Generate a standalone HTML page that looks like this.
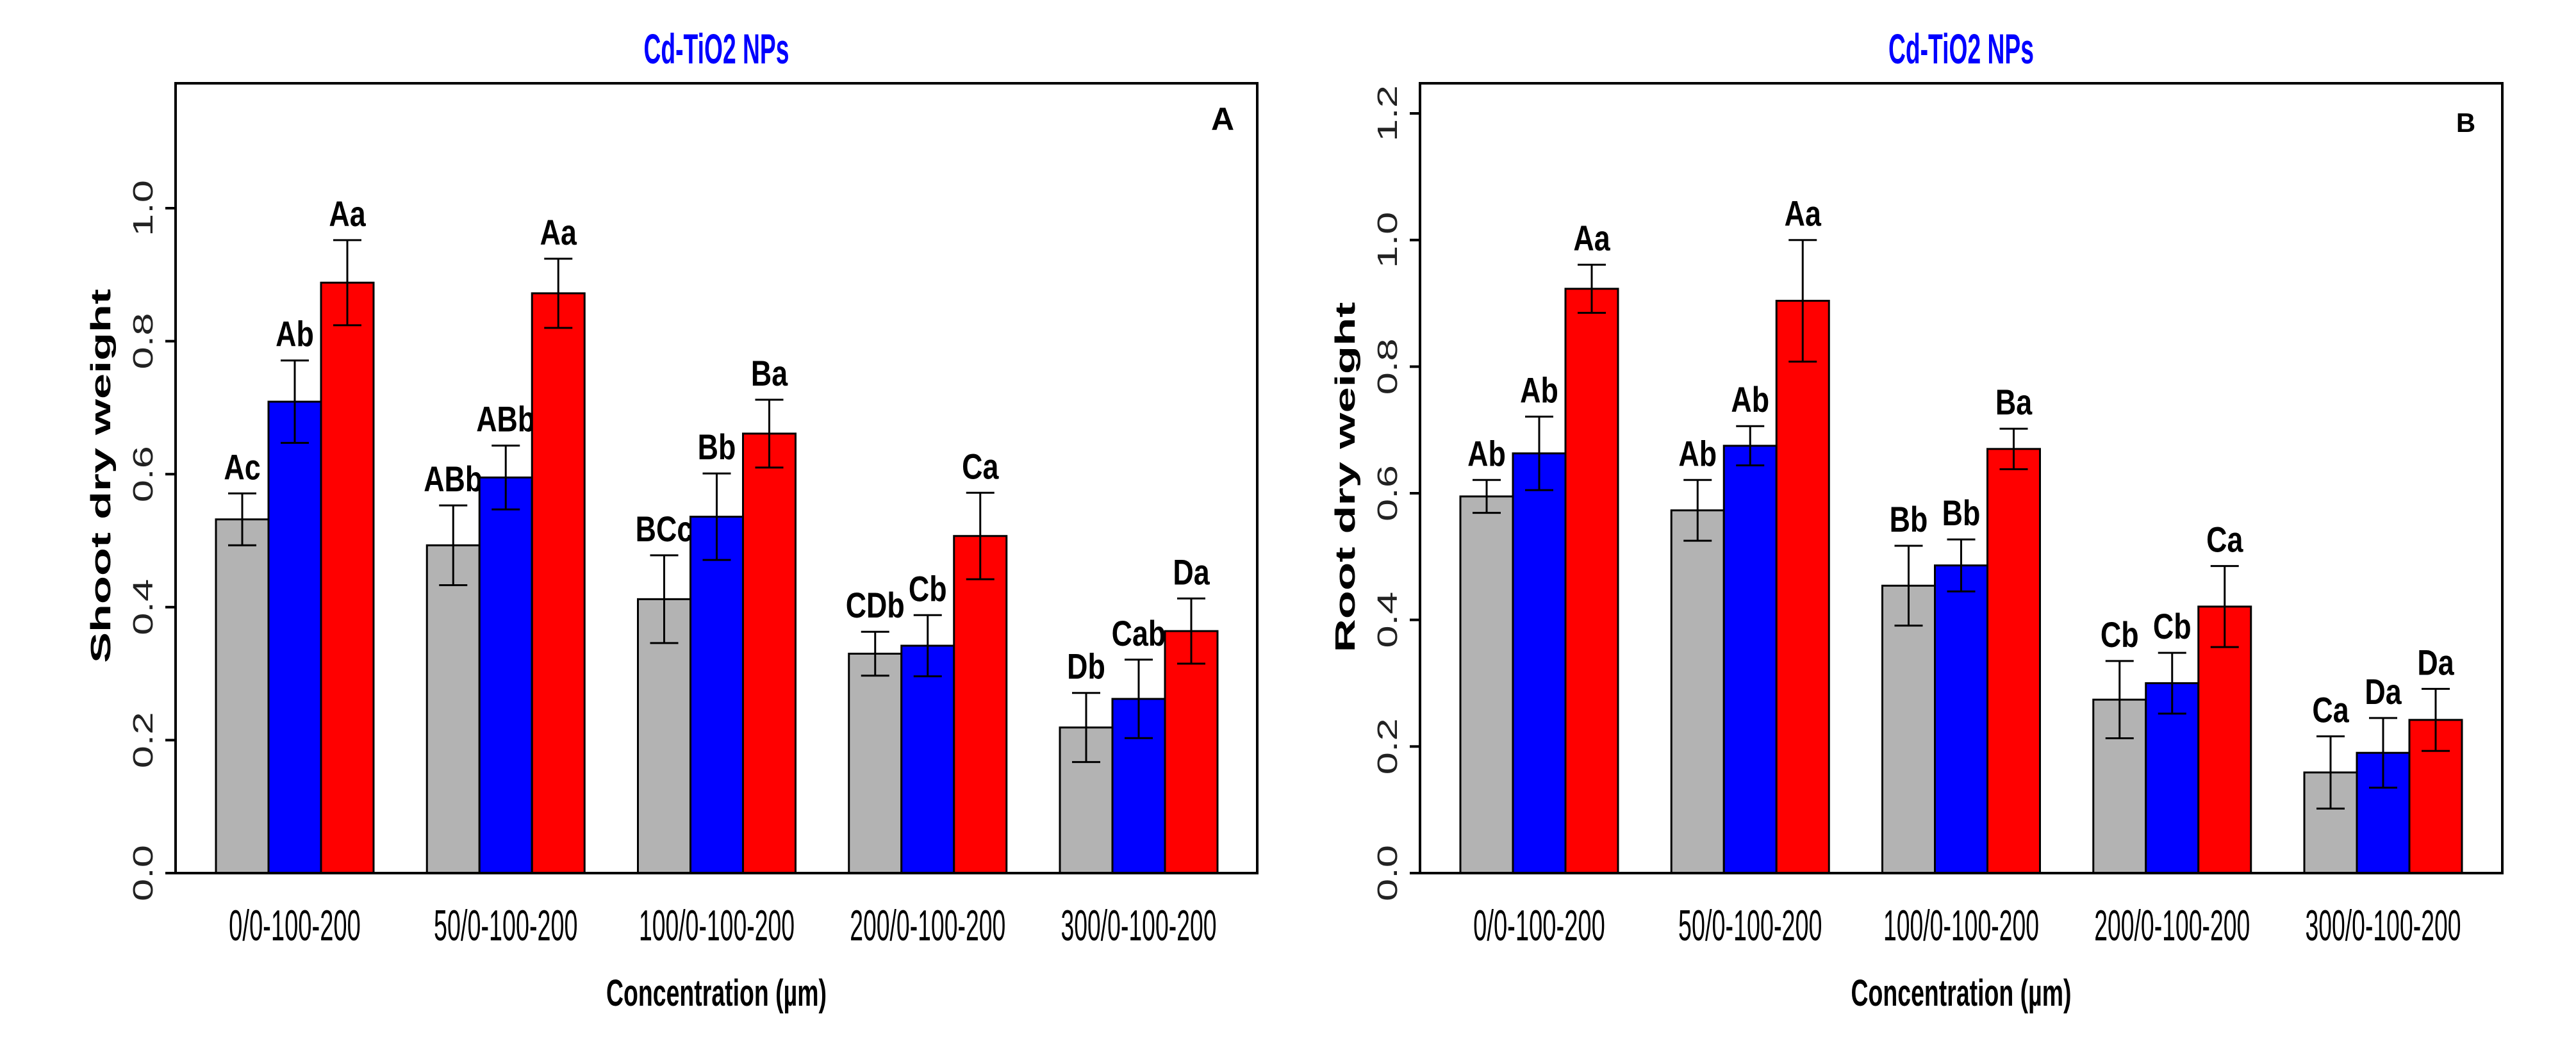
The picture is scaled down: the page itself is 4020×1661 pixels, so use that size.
<!DOCTYPE html>
<html><head><meta charset="utf-8"><style>
html,body{margin:0;padding:0;background:#fff;}
svg{display:block;}
text{font-family:"Liberation Sans",Arial,sans-serif;}
</style></head><body>
<svg id="chart" width="4020" height="1661" viewBox="0 0 4020 1661" xmlns="http://www.w3.org/2000/svg"></svg>
<script>
const categories = ["0/0-100-200","50/0-100-200","100/0-100-200","200/0-100-200","300/0-100-200"];
const seriesColors = ["#b3b3b3","#0000ff","#ff0000"];
const shootGray = [0.532,0.493,0.412,0.330,0.219];
const shootBlue = [0.709,0.595,0.536,0.342,0.262];
const shootRed = [0.888,0.872,0.661,0.507,0.364];
const shootGrayErr = [0.039,0.060,0.066,0.033,0.052];
const shootBlueErr = [0.062,0.048,0.065,0.046,0.059];
const shootRedErr = [0.064,0.052,0.051,0.065,0.049];
const shootLetters = [["Ac","Ab","Aa"],["ABb","ABb","Aa"],["BCc","Bb","Ba"],["CDb","Cb","Ca"],["Db","Cab","Da"]];
const rootGray = [0.595,0.573,0.454,0.274,0.159];
const rootBlue = [0.663,0.675,0.486,0.300,0.190];
const rootRed = [0.923,0.904,0.670,0.421,0.242];
const rootGrayErr = [0.026,0.048,0.063,0.061,0.057];
const rootBlueErr = [0.058,0.031,0.041,0.048,0.055];
const rootRedErr = [0.038,0.096,0.032,0.064,0.049];
const rootLetters = [["Ab","Ab","Aa"],["Ab","Ab","Aa"],["Bb","Bb","Ba"],["Cb","Cb","Ca"],["Ca","Da","Da"]];
const shootTicks = ["0.0","0.2","0.4","0.6","0.8","1.0"];
const rootTicks = ["0.0","0.2","0.4","0.6","0.8","1.0","1.2"];

const NS="http://www.w3.org/2000/svg";
const svg=document.getElementById('chart');
function mk(tag,attrs,parent){const e=document.createElementNS(NS,tag);for(const k in attrs)e.setAttribute(k,attrs[k]);(parent||svg).appendChild(e);return e;}

function panel(o){
  const g=mk('g',{});
  
  
  const y0=1363, yTop=130;
  const y=v=>y0-v*o.pxPer;
  const cxBox=(o.left+o.right)/2;
  const t=mk('text',{x:cxBox,y:99,'text-anchor':'middle','font-size':66,'font-weight':'bold',fill:'#0000ff',textLength:227,lengthAdjust:'spacingAndGlyphs'},g);
  t.textContent="Cd-TiO2 NPs";
  
  
  const vals=[o.gray,o.blue,o.red], errs=[o.grayErr,o.blueErr,o.redErr];
  for(let i=0;i<categories.length;i++){
    for(let s=0;s<3;s++){
      const x=o.barStart+o.groupStep*i+s*o.barW;
      const v=vals[s][i];
      const r=mk('rect',{x:x,y:y(v),width:o.barW,height:y0-y(v),fill:seriesColors[s],stroke:'#000','stroke-width':3},g);
      
      
      const cx=x+o.barW/2, up=y(v+errs[s][i]), lo=y(v-errs[s][i]);
      const eb=mk('path',{d:`M${cx},${up}V${lo}M${cx-22},${up}H${cx+22}M${cx-22},${lo}H${cx+22}`,stroke:'#000','stroke-width':3,fill:'none'},g);
      
      
      const lt=mk('text',{x:cx,y:up-22,'text-anchor':'middle','font-size':56,'font-weight':'bold',fill:'#000',transform:`translate(${cx},0) scale(0.8,1) translate(${-cx},0)`},g);
      lt.textContent=o.letters[i][s];
      
      
    }
    const cx=o.barStart+o.groupStep*i+1.5*o.barW;
    const xl=mk('text',{x:cx,y:1468,'text-anchor':'middle','font-size':68,fill:'#000',textLength:categories[i].length*18.7,lengthAdjust:'spacingAndGlyphs'},g);
    xl.textContent=categories[i];
    
    
  }
  const b=mk('rect',{x:o.left,y:yTop,width:o.right-o.left,height:y0-yTop,fill:'none',stroke:'#000','stroke-width':4},g);
  
  
  o.ticks.forEach(tk=>{
    const v=parseFloat(tk), ty=y(v);
    const tl=mk('line',{x1:o.left-16,x2:o.left,y1:ty,y2:ty,stroke:'#000','stroke-width':4},g);
    
    
    const tt=mk('text',{x:0,y:0,'text-anchor':'middle','font-size':44,fill:'#222',textLength:88,lengthAdjust:'spacingAndGlyphs',transform:`translate(${o.tickX},${ty}) rotate(-90)`},g);
    tt.textContent=tk;
    
    
  });
  const yl=mk('text',{x:0,y:0,'text-anchor':'middle','font-size':44,'font-weight':'bold',fill:'#000',textLength:o.ylabLen,lengthAdjust:'spacingAndGlyphs',transform:`translate(${o.ylabX},${o.ylabY}) rotate(-90)`},g);
  yl.textContent=o.ylab;
  
  
  const xt=mk('text',{x:cxBox,y:1570,'text-anchor':'middle','font-size':58,'font-weight':'bold',fill:'#000',textLength:344,lengthAdjust:'spacingAndGlyphs'},g);
  xt.textContent="Concentration (µm)";
  
  
  const pl=mk('text',{x:o.panelX,y:o.panelY,'text-anchor':'middle','font-size':o.panelSize,'font-weight':'bold',fill:'#000'},g);
  pl.textContent=o.panelLetter;
  
  
}

panel({name:'shoot-panel',left:274,right:1962,barStart:337,groupStep:329.25,barW:82,pxPer:1038,
  gray:shootGray,blue:shootBlue,red:shootRed,grayErr:shootGrayErr,blueErr:shootBlueErr,redErr:shootRedErr,
  letters:shootLetters,ticks:shootTicks,tickX:238,ylab:"Shoot dry weight",ylabX:172,ylabY:743,ylabLen:584,
  panelLetter:"A",panelX:1908,panelY:203,panelSize:50});
panel({name:'root-panel',left:2216,right:3905,barStart:2279,groupStep:329.25,barW:82,pxPer:988.3,
  gray:rootGray,blue:rootBlue,red:rootRed,grayErr:rootGrayErr,blueErr:rootBlueErr,redErr:rootRedErr,
  letters:rootLetters,ticks:rootTicks,tickX:2180,ylab:"Root dry weight",ylabX:2114,ylabY:745,ylabLen:547,
  panelLetter:"B",panelX:3848,panelY:206,panelSize:42});
</script>
</body></html>
